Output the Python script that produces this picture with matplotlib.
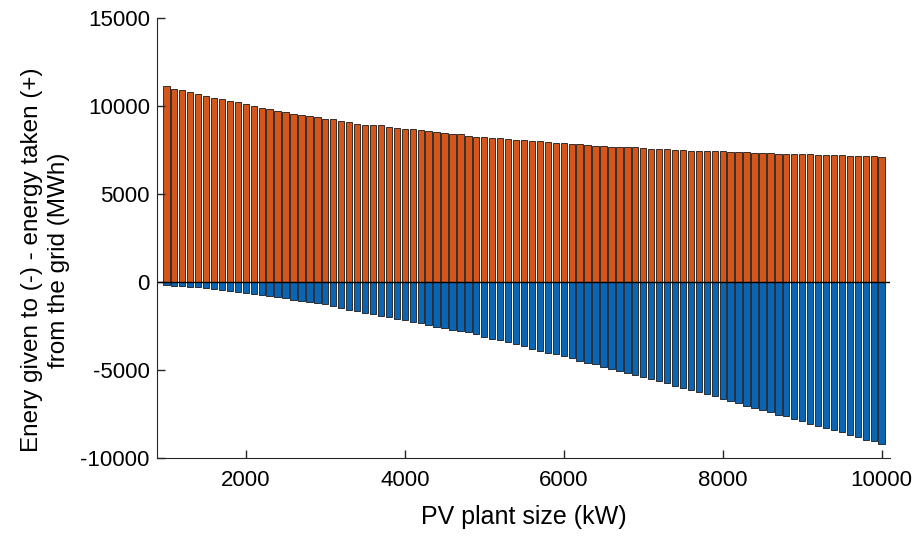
import numpy as np
import matplotlib
matplotlib.use("Agg")
import matplotlib.pyplot as plt

plt.rcParams['font.family'] = ['Liberation Sans', 'DejaVu Sans']
plt.rcParams['axes.unicode_minus'] = False

# PV plant size (kW)
plant_size = list(range(1000, 10001, 100))

# energy taken from the grid (+), MWh
energy_taken = [
    11130, 10985, 10909, 10795, 10682, 10568, 10473, 10379, 10303, 10208,
    10095, 10000, 9867, 9811, 9735, 9640, 9564, 9508, 9432, 9356,
    9280, 9242, 9180, 9072, 8996, 8939, 8920, 8902, 8826, 8750,
    8693, 8674, 8618, 8561, 8542, 8485, 8409, 8390, 8314, 8258,
    8239, 8201, 8163, 8125, 8087, 8068, 8040, 8030, 7955, 7917,
    7879, 7860, 7841, 7784, 7746, 7727, 7690, 7680, 7671, 7652,
    7614, 7576, 7557, 7538, 7500, 7490, 7462, 7443, 7435, 7430,
    7420, 7386, 7380, 7375, 7348, 7345, 7310, 7305, 7300, 7273,
    7254, 7250, 7245, 7235, 7197, 7195, 7190, 7178, 7175, 7140,
    7110,
]

# energy given to the grid (-), MWh
energy_given = [
    -189, -227, -246, -265, -303, -360, -417, -473, -511, -587,
    -644, -682, -739, -814, -871, -928, -1004, -1080, -1155, -1212,
    -1269, -1364, -1480, -1572, -1667, -1742, -1837, -1913, -2008, -2102,
    -2159, -2254, -2348, -2443, -2538, -2633, -2708, -2803, -2860, -2973,
    -3106, -3220, -3314, -3409, -3523, -3650, -3790, -3920, -4015, -4110,
    -4205, -4337, -4470, -4584, -4678, -4811, -4943, -5057, -5152, -5284,
    -5417, -5530, -5663, -5758, -5909, -6042, -6136, -6269, -6383, -6500,
    -6640, -6800, -6894, -7046, -7178, -7273, -7424, -7557, -7652, -7803,
    -7936, -8068, -8182, -8314, -8447, -8561, -8693, -8826, -8977, -9072,
    -9205,
]

yticks = [-10000, -5000, 0, 5000, 10000, 15000]
xticks = [2000, 4000, 6000, 8000, 10000]

fig = plt.figure(figsize=(9.17, 5.36), dpi=100)
ax = fig.add_axes([0.171, 0.146, 0.800, 0.820])

ax.bar(plant_size, energy_taken, width=80, color='#D5561B',
       edgecolor='#1a1a1a', linewidth=0.6)
ax.bar(plant_size, energy_given, width=80, color='#0A66B4',
       edgecolor='#1a1a1a', linewidth=0.6)
ax.axhline(0, color='black', linewidth=1.0)

ax.set_xlim(880, 10110)
ax.set_ylim(-10000, 15000)
ax.set_xticks(xticks)
ax.set_yticks(yticks)
ax.tick_params(direction='in', labelsize=16, length=6, width=1,
               colors='#262626', pad=5)
ax.tick_params(axis='x', pad=9)
for lbl in ax.get_xticklabels() + ax.get_yticklabels():
    lbl.set_color('black')

ax.spines['top'].set_visible(False)
ax.spines['right'].set_visible(False)
ax.spines['left'].set_color('#262626')
ax.spines['bottom'].set_color('#262626')

ax.set_xlabel('PV plant size (kW)', fontsize=18, labelpad=10)
ax.set_ylabel('Enery given to (-) - energy taken (+)\nfrom the grid (MWh)',
              fontsize=17.5, linespacing=1.3)
ax.yaxis.set_label_coords(-0.118, 0.45)

fig.savefig('out.png', dpi=100)
